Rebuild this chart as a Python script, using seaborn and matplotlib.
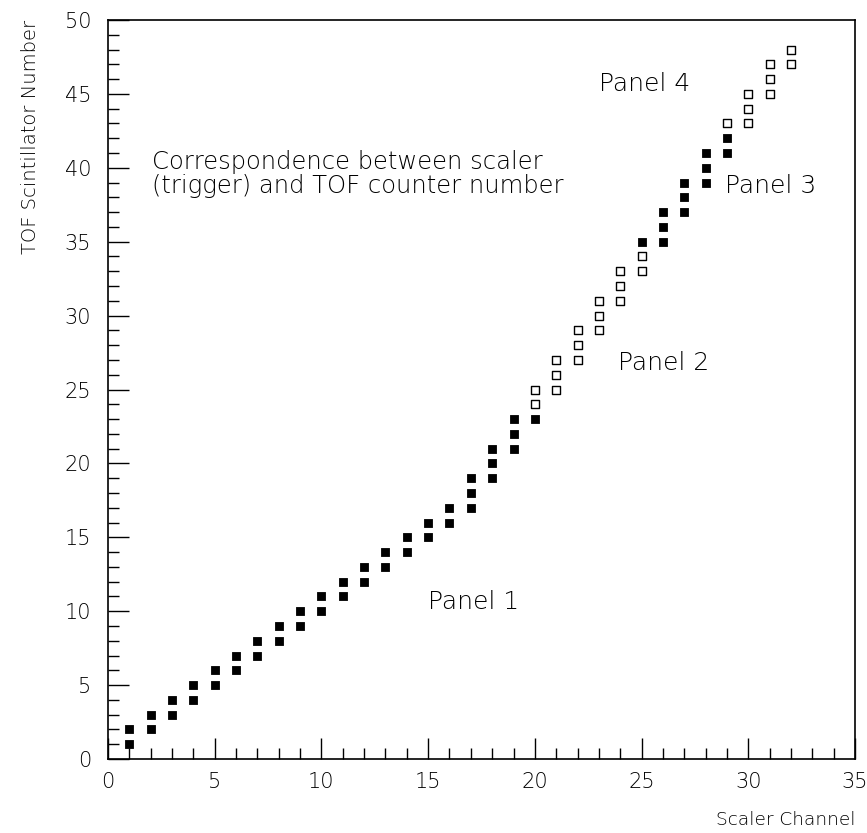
import matplotlib
matplotlib.use("Agg")
import matplotlib.pyplot as plt
import matplotlib.transforms as mtransforms
import pandas as pd
import seaborn as sns
from matplotlib.ticker import MultipleLocator

# scaler channel -> TOF counter, filled markers
filled_channel = [1, 1, 2, 2, 3, 3, 4, 4, 5, 5, 6, 6, 7, 7, 8, 8, 9, 9, 10, 10,
                  11, 11, 12, 12, 13, 13, 14, 14, 15, 15, 16, 16,
                  17, 17, 17, 18, 18, 18, 19, 19, 19, 20,
                  25, 26, 26, 26, 27, 27, 27, 28, 28, 28, 29, 29]
filled_counter = [1, 2, 2, 3, 3, 4, 4, 5, 5, 6, 6, 7, 7, 8, 8, 9, 9, 10, 10, 11,
                  11, 12, 12, 13, 13, 14, 14, 15, 15, 16, 16, 17,
                  17, 18, 19, 19, 20, 21, 21, 22, 23, 23,
                  35, 35, 36, 37, 37, 38, 39, 39, 40, 41, 41, 42]

# open markers
open_channel = [20, 20, 21, 21, 21, 22, 22, 22, 23, 23, 23, 24, 24, 24, 25, 25,
                29, 30, 30, 30, 31, 31, 31, 32, 32]
open_counter = [24, 25, 25, 26, 27, 27, 28, 29, 29, 30, 31, 31, 32, 33, 33, 34,
                43, 43, 44, 45, 45, 46, 47, 47, 48]

panel_labels = ["Panel 1", "Panel 2", "Panel 3", "Panel 4"]
panel_x = [15.0, 23.9, 28.9, 23.0]
panel_y = [10.6, 26.8, 38.8, 45.7]

sns.set_theme(style="white")
plt.rcParams["font.family"] = ["DejaVu Sans"]
plt.rcParams["font.weight"] = "light"
plt.rcParams["text.color"] = "black"
plt.rcParams["xtick.color"] = "black"
plt.rcParams["ytick.color"] = "black"

df = pd.concat([
    pd.DataFrame({"channel": filled_channel, "counter": filled_counter, "kind": "filled"}),
    pd.DataFrame({"channel": open_channel, "counter": open_counter, "kind": "open"}),
], ignore_index=True)

fig = plt.figure(figsize=(8.67, 8.33), dpi=100)
ax = fig.add_axes([108 / 867, 74 / 833, 747 / 867, 739 / 833])

sns.scatterplot(data=df[df["kind"] == "filled"], x="channel", y="counter", marker="s",
                s=40, color="black", edgecolor="black", linewidth=0.6, ax=ax, legend=False)
sns.scatterplot(data=df[df["kind"] == "open"], x="channel", y="counter", marker="s",
                s=36, facecolor="white", edgecolor="black", linewidth=1.0, ax=ax, legend=False)

ax.set_xlim(0, 35)
ax.set_ylim(0, 50)
ax.xaxis.set_major_locator(MultipleLocator(5))
ax.xaxis.set_minor_locator(MultipleLocator(1))
ax.yaxis.set_major_locator(MultipleLocator(5))
ax.yaxis.set_minor_locator(MultipleLocator(1))
ax.tick_params(which="major", direction="in", length=15, width=1, color="black",
               labelsize=15, labelcolor="black", bottom=True, left=True, top=False, right=False)
ax.tick_params(axis="x", which="major", pad=9)
ax.tick_params(axis="y", which="major", pad=12)
ax.tick_params(which="minor", direction="in", length=8, width=1, color="black",
               bottom=True, left=True, top=False, right=False)
for sp in ax.spines.values():
    sp.set_color("black")
    sp.set_linewidth(1.2)

# keep the last x tick label inside the figure
fig.canvas.draw()
last = ax.get_xticklabels()[-1]
last.set_transform(last.get_transform() + mtransforms.ScaledTranslation(-4 / 100, 0, fig.dpi_scale_trans))

ax.set_xlabel("")
ax.set_ylabel("")
fig.text(855 / 867, 13 / 833, "Scaler Channel", ha="right", va="center", fontsize=13.3)
fig.text(30 / 867, 1 - 20 / 833, "TOF Scintillator Number", rotation=90, ha="center", va="top",
         fontsize=14)

for lab, px, py in zip(panel_labels, panel_x, panel_y):
    ax.text(px, py, lab, ha="left", va="center", fontsize=18)

ax.text(2.06, 39.6, "Correspondence between scaler\n(trigger) and TOF counter number",
        ha="left", va="center", fontsize=17.5, linespacing=1.02)

fig.savefig("out.png", dpi=100)
